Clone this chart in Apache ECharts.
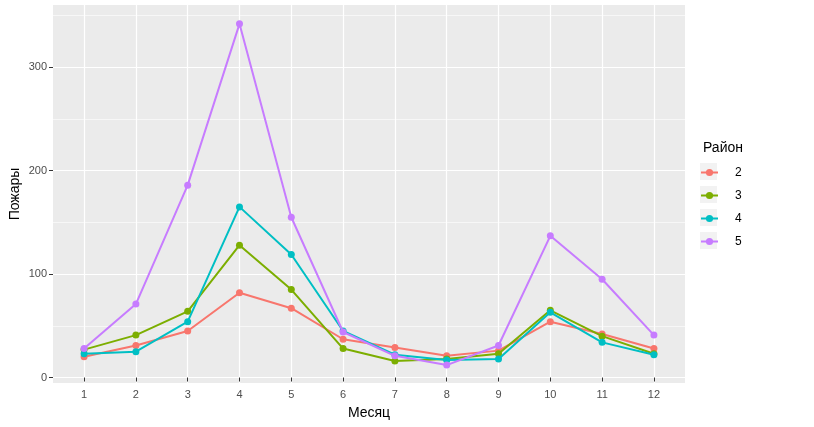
<!DOCTYPE html>
<html>
<head>
<meta charset="utf-8">
<title>Пожары по месяцам</title>
<script src="https://cdn.jsdelivr.net/npm/echarts@6/dist/echarts.min.js"></script>
<style>
  html, body { margin: 0; padding: 0; background: #fff; }
  #chart { width: 814px; height: 427px; }
</style>
</head>
<body>
<div id="chart"></div>
<script>
// months on x, fires per district
const months = [1, 2, 3, 4, 5, 6, 7, 8, 9, 10, 11, 12]
const district2 = [20, 31, 45, 82, 67, 37, 29, 21, 26, 54, 42, 28]
const district3 = [27, 41, 64, 128, 85, 28, 16, 18, 23, 65, 40, 23]
const district4 = [23, 25, 54, 165, 119, 45, 22, 17, 18, 63, 34, 22]
const district5 = [28, 71, 186, 342, 155, 44, 21, 12, 31, 137, 95, 41]
const yMajor = [0, 100, 200, 300]
const yMinor = [50, 150, 250, 350]
const districtNames = ['2', '3', '4', '5']

const colors = ['#F8766D', '#7CAE00', '#00BFC4', '#C77CFF']
const allSeries = [district2, district3, district4, district5]

const chart = echarts.init(document.getElementById('chart'))

const font = 'Liberation Sans, Arial, sans-serif'
const tickStyle = { color: '#333333', width: 1 }
const labelStyle = { color: '#4D4D4D', fontSize: 11, fontFamily: font }
const nameStyle = { color: '#000000', fontSize: 14, fontFamily: font }

// legend key backgrounds + one legend per key so rows line up with boxes
const keyBoxes = districtNames.map((n, i) => ({
  type: 'rect',
  left: 700,
  top: 163 + i * 23,
  shape: { width: 17, height: 17 },
  style: { fill: '#F2F2F2' },
  z: -1
}))

const legends = districtNames.map((n, i) => ({
  orient: 'vertical',
  left: 700,
  top: 165.5 + i * 23,
  padding: 0,
  itemWidth: 17,
  itemHeight: 9,
  data: [n],
  lineStyle: { width: 2 },
  textStyle: { color: '#000', fontSize: 12, lineHeight: 14, fontFamily: font, padding: [0, 0, 0, 12] }
}))

const option = {
  animation: false,
  backgroundColor: '#ffffff',
  grid: {
    left: 53,
    right: 129,
    top: 5,
    bottom: 44,
    outerBoundsMode: 'none',
    containLabel: false,
    show: true,
    backgroundColor: '#EBEBEB',
    borderWidth: 0
  },
  graphic: keyBoxes,
  legend: legends,
  title: {
    text: 'Район',
    left: 698,
    top: 136,
    textStyle: { color: '#000', fontSize: 14, fontWeight: 'normal', fontFamily: font }
  },
  xAxis: {
    type: 'value',
    min: 0.4,
    max: 12.6,
    name: 'Месяц',
    nameLocation: 'middle',
    nameGap: 23,
    nameMoveOverlap: false,
    nameTextStyle: nameStyle,
    axisLine: { show: false },
    axisTick: { show: true, length: 4, lineStyle: tickStyle, customValues: months },
    axisLabel: { ...labelStyle, margin: 6, customValues: months },
    splitLine: { show: true, lineStyle: { color: '#FFFFFF', width: 1.2 } }
  },
  yAxis: [
    {
      type: 'value',
      min: -5.3,
      max: 360.2,
      name: 'Пожары',
      nameLocation: 'middle',
      nameGap: 31,
      nameMoveOverlap: false,
      nameTextStyle: nameStyle,
      axisLine: { show: false },
      axisTick: { show: true, length: 4, lineStyle: tickStyle, customValues: yMajor },
      axisLabel: { ...labelStyle, margin: 6, customValues: yMajor },
      splitLine: { show: true, lineStyle: { color: '#FFFFFF', width: 1.2 } }
    },
    {
      type: 'value',
      min: -5.3,
      max: 360.2,
      position: 'left',
      axisLine: { show: false },
      axisTick: { show: false, customValues: yMinor },
      axisLabel: { show: false, customValues: yMinor },
      splitLine: { show: true, lineStyle: { color: '#FFFFFF', width: 0.6 } }
    }
  ],
  series: allSeries.map((vals, i) => ({
    name: districtNames[i],
    type: 'line',
    data: months.map((m, j) => [m, vals[j]]),
    color: colors[i],
    symbol: 'circle',
    symbolSize: 7,
    lineStyle: { width: 2 },
    z: 2 + i
  }))
}

chart.setOption(option)
</script>
</body>
</html>
